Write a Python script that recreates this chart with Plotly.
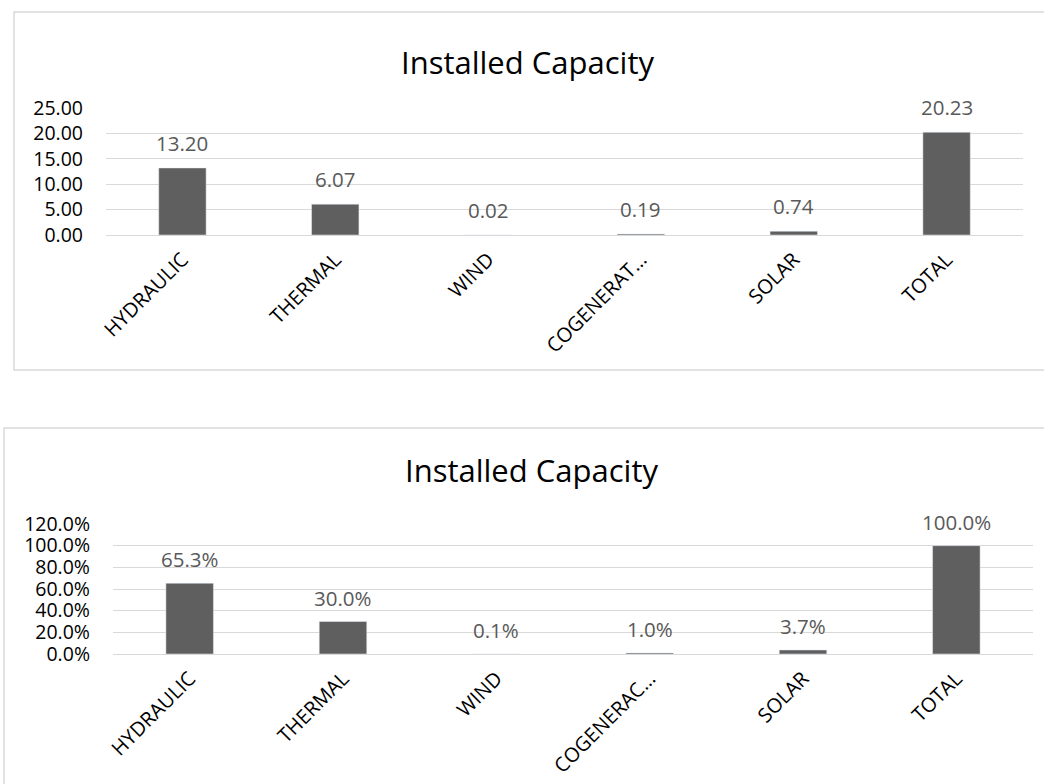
import plotly.graph_objects as go

# Installed capacity by source (GW) and share of total
categories = ["HYDRAULIC", "THERMAL", "WIND", "COGENERATION", "SOLAR", "TOTAL"]
capacity_labels = ["HYDRAULIC", "THERMAL", "WIND", "COGENERAT…", "SOLAR", "TOTAL"]
share_labels = ["HYDRAULIC", "THERMAL", "WIND", "COGENERAC…", "SOLAR", "TOTAL"]
capacity = [13.20, 6.07, 0.02, 0.19, 0.74, 20.23]
share = [0.653, 0.300, 0.001, 0.010, 0.037, 1.000]

W, H = 1044, 784
BAR = "#5f5f5f"
GRID = "#d9d9d9"
FONT = "Open Sans"


def px_x(p):
    return p / W


def px_y(p):
    return 1 - p / H


fig = go.Figure()
fig.add_trace(go.Bar(x=categories, y=capacity, marker_color=BAR, width=0.31,
                     xaxis="x", yaxis="y", hoverinfo="skip"))
fig.add_trace(go.Bar(x=categories, y=share, marker_color=BAR, width=0.31,
                     xaxis="x2", yaxis="y2", hoverinfo="skip"))

annotations = []
# Chart titles
for cx, cy in [(527, 62), (531, 470)]:
    annotations.append(dict(text="Installed Capacity", x=px_x(cx), y=px_y(cy),
                            xref="paper", yref="paper", showarrow=False,
                            font=dict(family=FONT, size=31, color="#000000"),
                            xanchor="center", yanchor="middle"))
# Value labels above the bars
for c, v in zip(categories, capacity):
    annotations.append(dict(text=f"{v:.2f}", x=c, y=v, xref="x", yref="y",
                            showarrow=False, yshift=25, yanchor="middle",
                            font=dict(family=FONT, size=20.5, color="#595959")))
for c, v in zip(categories, share):
    annotations.append(dict(text=f"{v * 100:.1f}%", x=c, y=v, xref="x2", yref="y2",
                            showarrow=False, yshift=24, yanchor="middle",
                            font=dict(family=FONT, size=20.5, color="#595959")))

# Chart frames
shapes = [
    dict(type="rect", xref="paper", yref="paper",
         x0=px_x(14), x1=px_x(1046), y0=px_y(370), y1=px_y(12),
         line=dict(color=GRID, width=1.5), fillcolor="rgba(0,0,0,0)"),
    dict(type="rect", xref="paper", yref="paper",
         x0=px_x(4), x1=px_x(1046), y0=px_y(790), y1=px_y(428),
         line=dict(color=GRID, width=1.5), fillcolor="rgba(0,0,0,0)"),
]

xcommon = dict(type="category", tickangle=-45, showgrid=False, showline=False,
               ticks="", zeroline=False, automargin=False,
               tickfont=dict(family=FONT, size=20, color="#000000"),
               ticklabelstandoff=8)
ycommon = dict(showgrid=True, gridcolor=GRID, gridwidth=1, zeroline=True,
               zerolinecolor=GRID, zerolinewidth=1, showline=False, ticks="",
               automargin=False,
               tickfont=dict(family=FONT, size=19.5, color="#000000"),
               ticklabelstandoff=22)

fig.update_layout(
    width=W, height=H,
    margin=dict(l=0, r=0, t=0, b=0, autoexpand=False),
    paper_bgcolor="white", plot_bgcolor="white",
    showlegend=False,
    xaxis=dict(xcommon, domain=[px_x(106), px_x(1023)], anchor="y",
               tickvals=categories, ticktext=capacity_labels),
    yaxis=dict(ycommon, domain=[px_y(235), px_y(108)], anchor="x",
               range=[0, 25], dtick=5, tickformat=".2f"),
    xaxis2=dict(xcommon, domain=[px_x(113), px_x(1033)], anchor="y2",
                tickvals=categories, ticktext=share_labels),
    yaxis2=dict(ycommon, domain=[px_y(654), px_y(524)], anchor="x2",
                range=[0, 1.2], dtick=0.2, tickformat=".1%"),
    annotations=annotations,
    shapes=shapes,
)

fig.write_html("out.html")
